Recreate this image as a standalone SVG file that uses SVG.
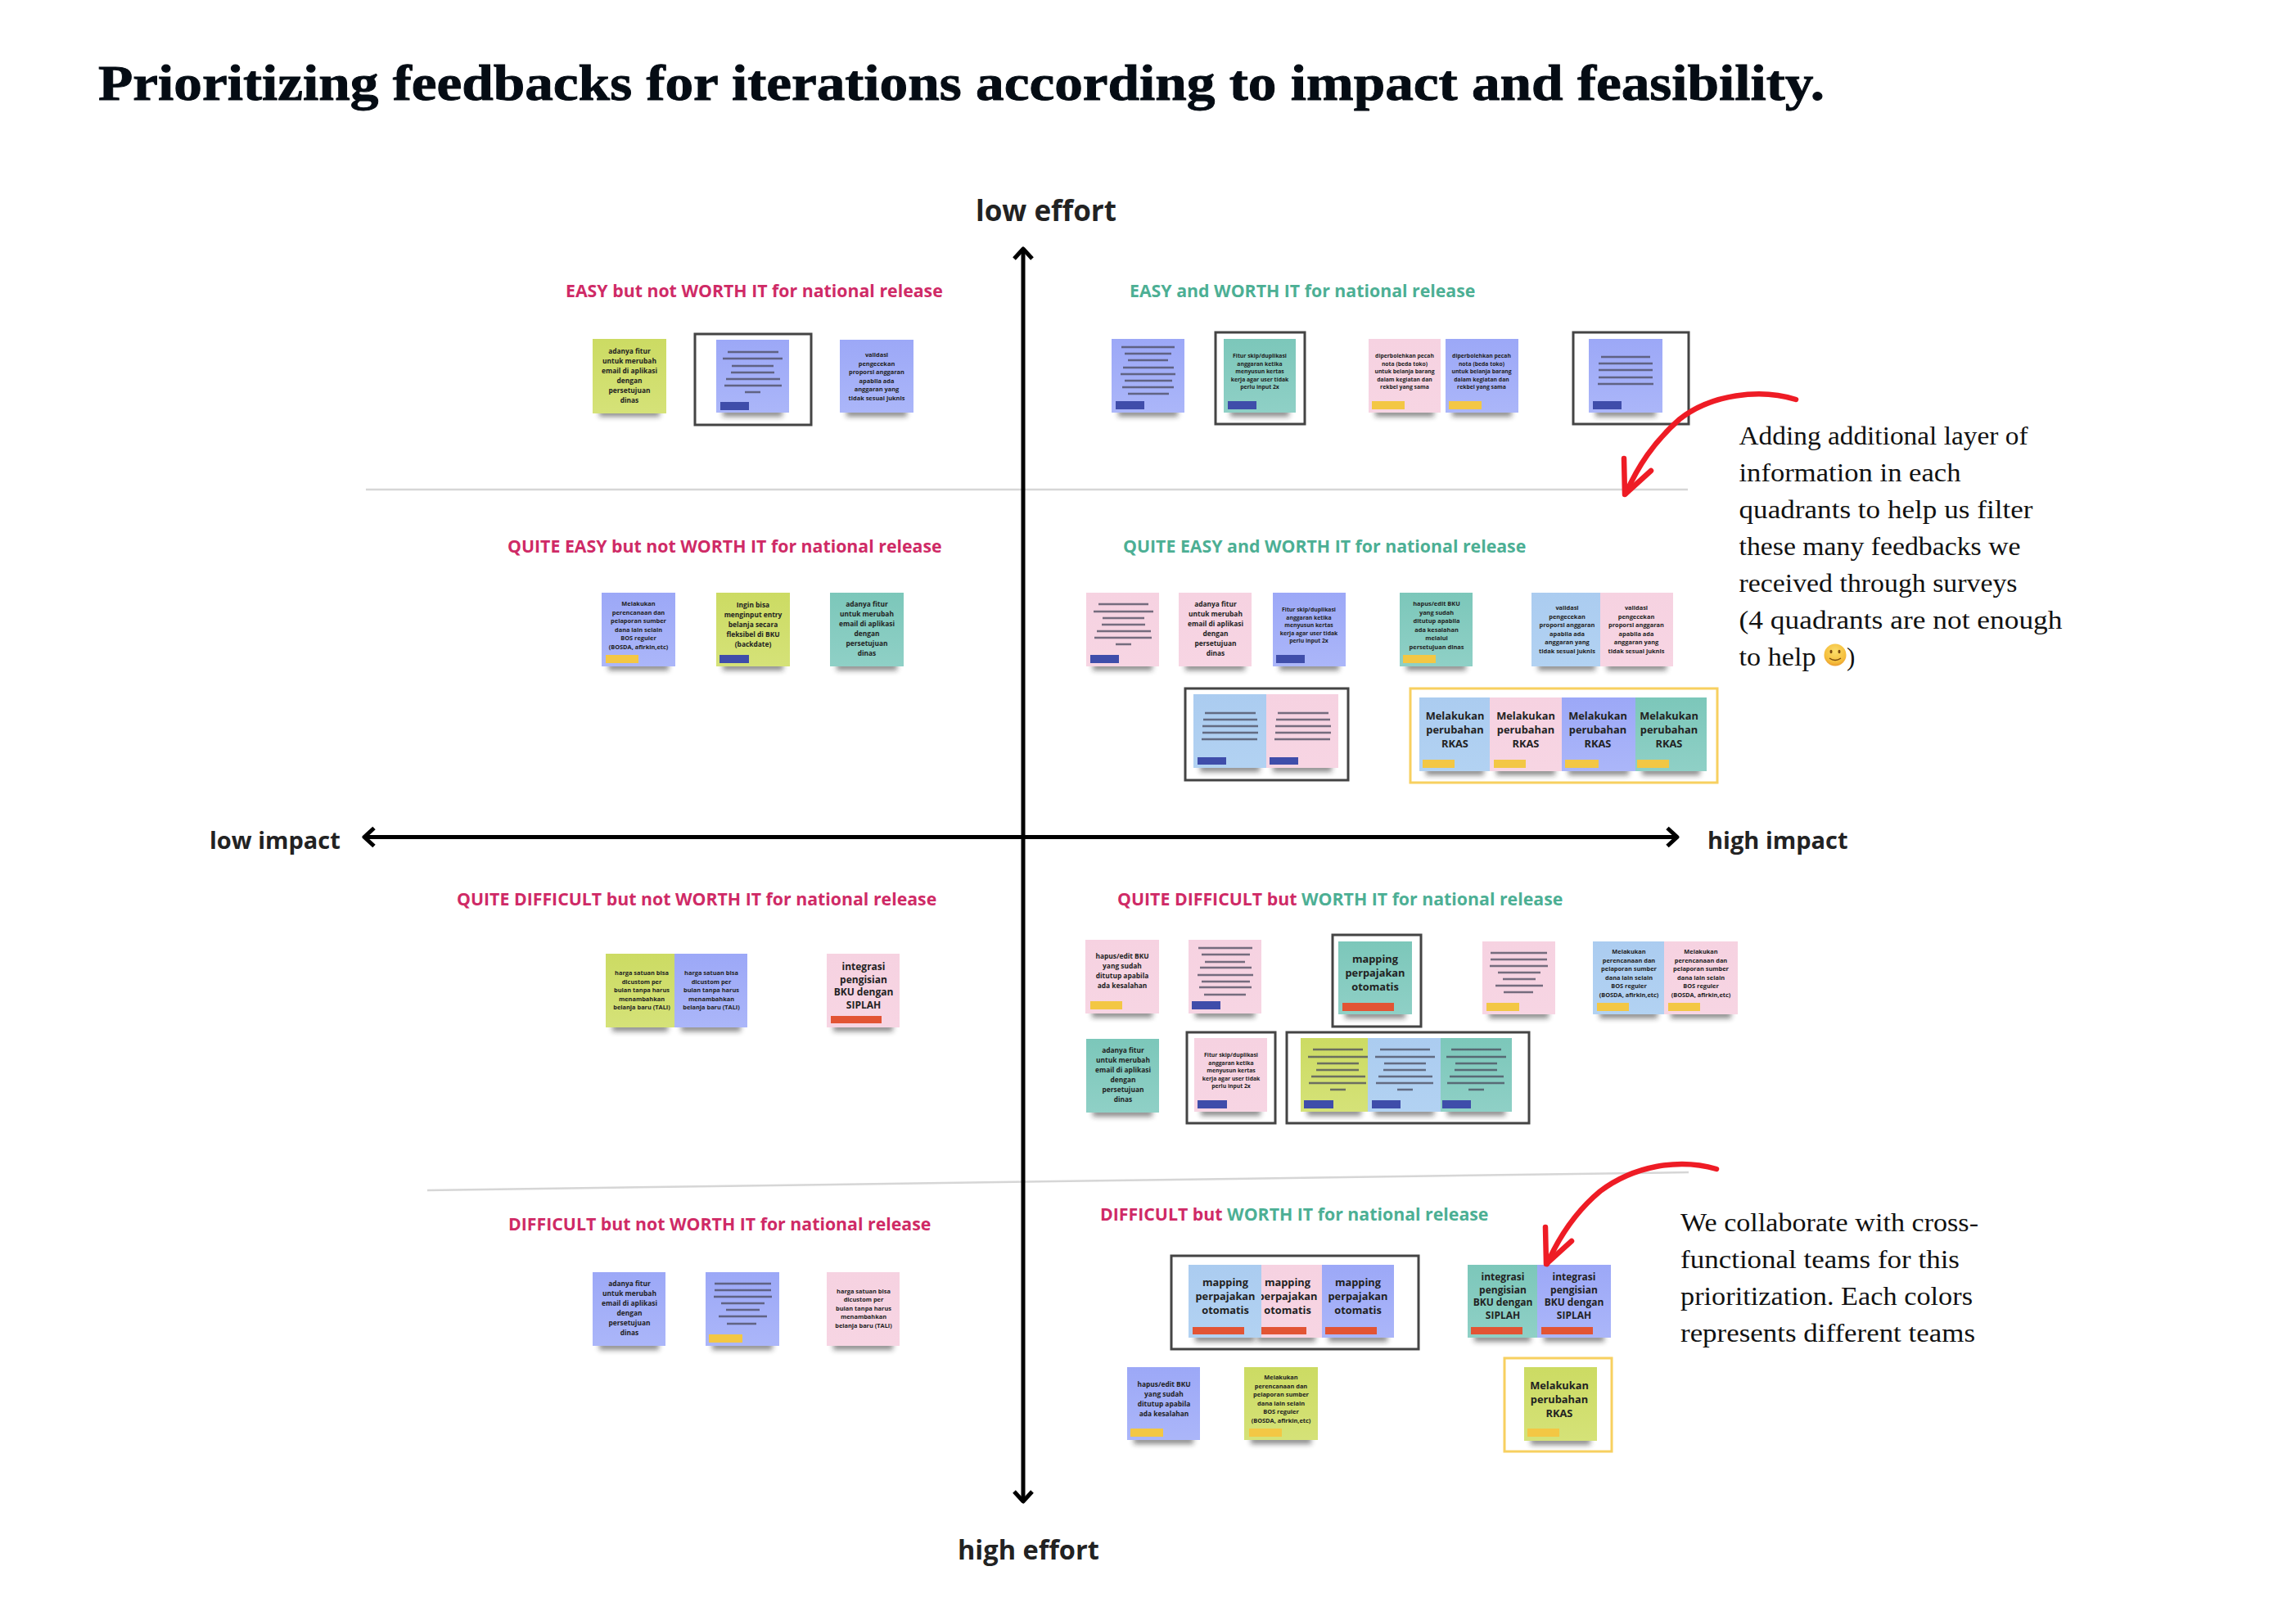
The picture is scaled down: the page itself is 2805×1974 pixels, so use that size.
<svg xmlns="http://www.w3.org/2000/svg" width="2805" height="1974" viewBox="0 0 2805 1974">
<style>
.bg{fill:#fff}
.sh{fill:#1c1c1c;opacity:.5;filter:url(#blur)}
.blue{fill:url(#gBlue)}.green{fill:url(#gGreen)}.teal{fill:url(#gTeal)}.pink{fill:url(#gPink)}.lblue{fill:url(#gLblue)}
.tb{fill:#3F4DAA}.ty{fill:#F3C744}.tr{fill:#E25434}
.ln{stroke:#4a4a5c;stroke-opacity:.75;stroke-width:2.5;fill:none}
.t{font-family:"Open Sans","Liberation Sans",sans-serif;font-weight:700;fill:#222;text-anchor:middle}
.f85{font-size:8.4px}.f75{font-size:7.4px}.f68{font-size:6.8px}
.f12{font-size:12px;font-weight:700}.f13{font-size:12.8px;font-weight:700}
.fk{fill:none;stroke:#444;stroke-width:3}.fy{fill:none;stroke:#F7D060;stroke-width:3}
.h{font-family:"Open Sans","Liberation Sans",sans-serif;font-weight:700;font-size:21.3px}
.pk{fill:#CF2A66}.gn{fill:#4CAF94}
.ax{font-family:"Open Sans","Liberation Sans",sans-serif;font-weight:700;fill:#222}
.ax1{font-size:35px}.ax2{font-size:32.5px}.ax3{font-size:29px}
.nt{font-family:"Liberation Serif","DejaVu Serif",serif;font-size:31px;fill:#111}
.ttl{font-family:"Liberation Serif","DejaVu Serif",serif;font-weight:700;font-size:61px;fill:#050c14;stroke:#050c14;stroke-width:.9}
.axis{stroke:#000;stroke-width:5;fill:none}
.div{stroke:#d6d6d6;stroke-width:2.5;fill:none}
.red{stroke:#EE1C25;stroke-width:6.5;fill:none;stroke-linecap:round;stroke-linejoin:round}
</style>
<defs>
<filter id="blur" x="-30%" y="-150%" width="160%" height="400%"><feGaussianBlur stdDeviation="3.2"/></filter>
<linearGradient id="gBlue" x1="0" y1="0" x2="0" y2="1"><stop offset="0" stop-color="#9CA8F7"/><stop offset="1" stop-color="#ABB6F9"/></linearGradient>
<linearGradient id="gGreen" x1="0" y1="0" x2="0" y2="1"><stop offset="0" stop-color="#CCDB63"/><stop offset="1" stop-color="#D5E278"/></linearGradient>
<linearGradient id="gTeal" x1="0" y1="0" x2="0" y2="1"><stop offset="0" stop-color="#7CC7BA"/><stop offset="1" stop-color="#8FD0C6"/></linearGradient>
<linearGradient id="gPink" x1="0" y1="0" x2="0" y2="1"><stop offset="0" stop-color="#F6D2E1"/><stop offset="1" stop-color="#F7D5E3"/></linearGradient>
<linearGradient id="gLblue" x1="0" y1="0" x2="0" y2="1"><stop offset="0" stop-color="#ABCCF0"/><stop offset="1" stop-color="#B2D2F2"/></linearGradient>
<radialGradient id="gEmo" cx=".5" cy=".35" r=".7"><stop offset="0" stop-color="#FBDD6A"/><stop offset=".7" stop-color="#F5BE3C"/><stop offset="1" stop-color="#E8922A"/></radialGradient>
<marker id="chev" markerUnits="userSpaceOnUse" markerWidth="34" markerHeight="34" refX="17" refY="17" orient="auto-start-reverse"><path d="M5 6L17 17L5 28" fill="none" stroke="#000" stroke-width="5" stroke-linejoin="round"/></marker>
</defs>
<rect class="bg" width="2805" height="1974"/>
<text id="title" class="ttl" x="120" y="122" textLength="2109" lengthAdjust="spacingAndGlyphs">Prioritizing feedbacks for iterations according to impact and feasibility.</text>

<g id="connectors">
<path class="div" d="M447 598H2062"/>
<path class="div" d="M522 1454L2063 1432"/>
<path class="axis" marker-start="url(#chev)" marker-end="url(#chev)" d="M1250 304V1834"/>
<path class="axis" marker-start="url(#chev)" marker-end="url(#chev)" d="M445 1022.5H2049"/>
</g>

<g id="axis-labels">
<text class="ax ax1" x="1192" y="270">low effort</text>
<text class="ax ax3" x="256" y="1037">low impact</text>
<text class="ax ax3" x="2086" y="1037">high impact</text>
<text class="ax ax2" x="1170" y="1905">high effort</text>
</g>

<g id="quadrant-headings">
<text class="h pk" x="691" y="362.5">EASY but not WORTH IT for national release</text>
<text class="h gn" x="1380" y="362.5">EASY and WORTH IT for national release</text>
<text class="h pk" x="620" y="674.5">QUITE EASY but not WORTH IT for national release</text>
<text class="h gn" x="1372" y="674.5">QUITE EASY and WORTH IT for national release</text>
<text class="h pk" x="558" y="1105.5">QUITE DIFFICULT but not WORTH IT for national release</text>
<text class="h" x="1365" y="1105.5"><tspan class="pk">QUITE DIFFICULT but </tspan><tspan class="gn">WORTH IT for national release</tspan></text>
<text class="h pk" x="621" y="1502.5">DIFFICULT but not WORTH IT for national release</text>
<text class="h" x="1344" y="1490.5"><tspan class="pk">DIFFICULT but </tspan><tspan class="gn">WORTH IT for national release</tspan></text>
</g>

<g id="frames">
<rect class="fk" x="849" y="408" width="142" height="111"/>
<rect class="fk" x="1485" y="406" width="109" height="112"/>
<rect class="fk" x="1922" y="406" width="141" height="112"/>
<rect class="fk" x="1448" y="841" width="199" height="112"/>
<rect class="fy" x="1723" y="841" width="375" height="115"/>
<rect class="fk" x="1628" y="1142" width="108" height="112"/>
<rect class="fk" x="1450" y="1261" width="108" height="111"/>
<rect class="fk" x="1572" y="1261" width="296" height="111"/>
<rect class="fk" x="1431" y="1534" width="302" height="114"/>
<rect class="fy" x="1838" y="1659" width="131" height="114"/>
</g>

<g id="q1-note1" transform="translate(724,414)"><rect class="sh" x="8" y="85" width="74" height="10"/><rect class="green" width="90" height="91"/><text class="t f85" y="18"><tspan x="45">adanya fitur</tspan><tspan x="45" dy="12">untuk merubah</tspan><tspan x="45" dy="12">email di aplikasi</tspan><tspan x="45" dy="12">dengan</tspan><tspan x="45" dy="12">persetujuan</tspan><tspan x="45" dy="12">dinas</tspan></text></g>
<g id="q1-note2" transform="translate(875,415)"><rect class="sh" x="8" y="84" width="73" height="10"/><rect class="blue" width="89" height="89"/><path class="ln" d="M14 15h62M8 23h73M19 32h51M18 40h53M12 48h66M10 56h70M35 64h19"/><rect class="tb" x="5" y="76" width="35" height="10"/></g>
<g id="q1-note3" transform="translate(1026,415)"><rect class="sh" x="8" y="84" width="74" height="10"/><rect class="blue" width="90" height="89"/><text class="t f75" y="21"><tspan x="45">validasi</tspan><tspan x="45" dy="10.6">pengecekan</tspan><tspan x="45" dy="10.6">proporsi anggaran</tspan><tspan x="45" dy="10.6">apabila ada</tspan><tspan x="45" dy="10.6">anggaran yang</tspan><tspan x="45" dy="10.6">tidak sesuai juknis</tspan></text></g>

<g id="q2-note1" transform="translate(1358,414)"><rect class="sh" x="8" y="85" width="73" height="10"/><rect class="blue" width="89" height="90"/><path class="ln" d="M12 10h65M16 18h57M20 26h49M14 35h62M11 43h67M16 51h58M13 59h63M20 67h50"/><rect class="tb" x="5" y="76" width="35" height="10"/></g>
<g id="q2-note2" transform="translate(1495,414)"><rect class="sh" x="8" y="85" width="72" height="10"/><rect class="teal" width="88" height="90"/><text class="t f68" y="23"><tspan x="44">Fitur skip/duplikasi</tspan><tspan x="44" dy="9.5">anggaran ketika</tspan><tspan x="44" dy="9.5">menyusun kertas</tspan><tspan x="44" dy="9.5">kerja agar user tidak</tspan><tspan x="44" dy="9.5">perlu input 2x</tspan></text><rect class="tb" x="5" y="76" width="35" height="10"/></g>
<g id="q2-note3" transform="translate(1672,414)"><rect class="sh" x="8" y="85" width="72" height="10"/><rect class="pink" width="88" height="90"/><text class="t f68" y="23"><tspan x="44">diperbolehkan pecah</tspan><tspan x="44" dy="9.5">nota (beda toko)</tspan><tspan x="44" dy="9.5">untuk belanja barang</tspan><tspan x="44" dy="9.5">dalam kegiatan dan</tspan><tspan x="44" dy="9.5">rekbel yang sama</tspan></text><rect class="ty" x="4" y="76" width="40" height="10"/></g>
<g id="q2-note4" transform="translate(1766,414)"><rect class="sh" x="8" y="85" width="73" height="10"/><rect class="blue" width="89" height="90"/><text class="t f68" y="23"><tspan x="44">diperbolehkan pecah</tspan><tspan x="44" dy="9.5">nota (beda toko)</tspan><tspan x="44" dy="9.5">untuk belanja barang</tspan><tspan x="44" dy="9.5">dalam kegiatan dan</tspan><tspan x="44" dy="9.5">rekbel yang sama</tspan></text><rect class="ty" x="4" y="76" width="40" height="10"/></g>
<g id="q2-note5" transform="translate(1941,414)"><rect class="sh" x="8" y="85" width="74" height="10"/><rect class="blue" width="90" height="90"/><path class="ln" d="M15 22h60M12 30h66M12 38h66M12 47h66M11 55h68"/><rect class="tb" x="5" y="76" width="35" height="10"/></g>

<g id="q3-note1" transform="translate(735,724)"><rect class="sh" x="8" y="85" width="74" height="10"/><rect class="blue" width="90" height="90"/><text class="t f75" y="16"><tspan x="45">Melakukan</tspan><tspan x="45" dy="10.6">perencanaan dan</tspan><tspan x="45" dy="10.6">pelaporan sumber</tspan><tspan x="45" dy="10.6">dana lain selain</tspan><tspan x="45" dy="10.6">BOS reguler</tspan><tspan x="45" dy="10.6">(BOSDA, afirkin,etc)</tspan></text><rect class="ty" x="5" y="76" width="40" height="10"/></g>
<g id="q3-note2" transform="translate(875,724)"><rect class="sh" x="8" y="85" width="74" height="10"/><rect class="green" width="90" height="90"/><text class="t f85" y="18"><tspan x="45">Ingin bisa</tspan><tspan x="45" dy="12">menginput entry</tspan><tspan x="45" dy="12">belanja secara</tspan><tspan x="45" dy="12">fleksibel di BKU</tspan><tspan x="45" dy="12">(backdate)</tspan></text><rect class="tb" x="4" y="76" width="36" height="10"/></g>
<g id="q3-note3" transform="translate(1014,724)"><rect class="sh" x="8" y="85" width="74" height="10"/><rect class="teal" width="90" height="90"/><text class="t f85" y="17"><tspan x="45">adanya fitur</tspan><tspan x="45" dy="12">untuk merubah</tspan><tspan x="45" dy="12">email di aplikasi</tspan><tspan x="45" dy="12">dengan</tspan><tspan x="45" dy="12">persetujuan</tspan><tspan x="45" dy="12">dinas</tspan></text></g>

<g id="q4-note1" transform="translate(1327,724)"><rect class="sh" x="8" y="85" width="73" height="10"/><rect class="pink" width="89" height="90"/><path class="ln" d="M15 14h61M9 23h73M20 31h51M19 39h53M13 47h66M10 55h70M36 63h19"/><rect class="tb" x="5" y="76" width="35" height="10"/></g>
<g id="q4-note2" transform="translate(1440,724)"><rect class="sh" x="8" y="85" width="73" height="10"/><rect class="pink" width="89" height="90"/><text class="t f85" y="17"><tspan x="45">adanya fitur</tspan><tspan x="45" dy="12">untuk merubah</tspan><tspan x="45" dy="12">email di aplikasi</tspan><tspan x="45" dy="12">dengan</tspan><tspan x="45" dy="12">persetujuan</tspan><tspan x="45" dy="12">dinas</tspan></text></g>
<g id="q4-note3" transform="translate(1555,724)"><rect class="sh" x="8" y="85" width="73" height="10"/><rect class="blue" width="89" height="90"/><text class="t f68" y="23"><tspan x="44">Fitur skip/duplikasi</tspan><tspan x="44" dy="9.5">anggaran ketika</tspan><tspan x="44" dy="9.5">menyusun kertas</tspan><tspan x="44" dy="9.5">kerja agar user tidak</tspan><tspan x="44" dy="9.5">perlu input 2x</tspan></text><rect class="tb" x="4" y="76" width="35" height="10"/></g>
<g id="q4-note4" transform="translate(1710,724)"><rect class="sh" x="8" y="85" width="73" height="10"/><rect class="teal" width="89" height="90"/><text class="t f75" y="16"><tspan x="45">hapus/edit BKU</tspan><tspan x="45" dy="10.6">yang sudah</tspan><tspan x="45" dy="10.6">ditutup apabila</tspan><tspan x="45" dy="10.6">ada kesalahan</tspan><tspan x="45" dy="10.6">melalui</tspan><tspan x="45" dy="10.6">persetujuan dinas</tspan></text><rect class="ty" x="4" y="76" width="40" height="10"/></g>
<g id="q4-note5" transform="translate(1871,724)"><rect class="sh" x="8" y="85" width="70" height="10"/><rect class="lblue" width="84" height="90"/><text class="t f75" y="21"><tspan x="43.5">validasi</tspan><tspan x="43.5" dy="10.6">pengecekan</tspan><tspan x="43.5" dy="10.6">proporsi anggaran</tspan><tspan x="43.5" dy="10.6">apabila ada</tspan><tspan x="43.5" dy="10.6">anggaran yang</tspan><tspan x="43.5" dy="10.6">tidak sesuai juknis</tspan></text></g>
<g id="q4-note6" transform="translate(1955,724)"><rect class="sh" x="8" y="85" width="73" height="10"/><rect class="pink" width="89" height="90"/><text class="t f75" y="21"><tspan x="44">validasi</tspan><tspan x="44" dy="10.6">pengecekan</tspan><tspan x="44" dy="10.6">proporsi anggaran</tspan><tspan x="44" dy="10.6">apabila ada</tspan><tspan x="44" dy="10.6">anggaran yang</tspan><tspan x="44" dy="10.6">tidak sesuai juknis</tspan></text></g>
<g id="q4-note7" transform="translate(1458,848)"><rect class="sh" x="8" y="85" width="73" height="10"/><rect class="lblue" width="89" height="90"/><path class="ln" d="M14 23h62M12 31h66M11 39h68M11 47h68M10 55h68"/><rect class="tb" x="5" y="77" width="35" height="9"/></g>
<g id="q4-note8" transform="translate(1547,848)"><rect class="sh" x="8" y="85" width="72" height="10"/><rect class="pink" width="88" height="90"/><path class="ln" d="M14 23h62M12 31h66M11 39h68M11 47h68M10 55h68"/><rect class="tb" x="4" y="77" width="35" height="9"/></g>
<g id="q4-note9" transform="translate(1734,852)"><rect class="sh" x="8" y="85" width="71" height="10"/><rect class="lblue" width="87" height="90"/><text class="t f13" y="27"><tspan x="43.5">Melakukan</tspan><tspan x="43.5" dy="17">perubahan</tspan><tspan x="43.5" dy="17">RKAS</tspan></text><rect class="ty" x="4" y="76" width="39" height="10"/></g>
<g id="q4-note10" transform="translate(1820,852)"><rect class="sh" x="8" y="85" width="72" height="10"/><rect class="pink" width="88" height="90"/><text class="t f13" y="27"><tspan x="44">Melakukan</tspan><tspan x="44" dy="17">perubahan</tspan><tspan x="44" dy="17">RKAS</tspan></text><rect class="ty" x="5" y="76" width="39" height="10"/></g>
<g id="q4-note11" transform="translate(1908,852)"><rect class="sh" x="8" y="85" width="74" height="10"/><rect class="blue" width="90" height="90"/><text class="t f13" y="27"><tspan x="44">Melakukan</tspan><tspan x="44" dy="17">perubahan</tspan><tspan x="44" dy="17">RKAS</tspan></text><rect class="ty" x="4" y="76" width="41" height="10"/></g>
<g id="q4-note12" transform="translate(1998,852)"><rect class="sh" x="8" y="85" width="71" height="10"/><rect class="teal" width="87" height="90"/><text class="t f13" y="27"><tspan x="41">Melakukan</tspan><tspan x="41" dy="17">perubahan</tspan><tspan x="41" dy="17">RKAS</tspan></text><rect class="ty" x="2" y="76" width="39" height="10"/></g>

<g id="q5-note1" transform="translate(740,1165)"><rect class="sh" x="8" y="85" width="68" height="10"/><rect class="green" width="84" height="90"/><text class="t f75" y="26"><tspan x="44">harga satuan bisa</tspan><tspan x="44" dy="10.5">dicustom per</tspan><tspan x="44" dy="10.5">bulan tanpa harus</tspan><tspan x="44" dy="10.5">menambahkan</tspan><tspan x="44" dy="10.5">belanja baru (TALI)</tspan></text></g>
<g id="q5-note2" transform="translate(824,1165)"><rect class="sh" x="8" y="85" width="73" height="10"/><rect class="blue" width="89" height="90"/><text class="t f75" y="26"><tspan x="45">harga satuan bisa</tspan><tspan x="45" dy="10.5">dicustom per</tspan><tspan x="45" dy="10.5">bulan tanpa harus</tspan><tspan x="45" dy="10.5">menambahkan</tspan><tspan x="45" dy="10.5">belanja baru (TALI)</tspan></text></g>
<g id="q5-note3" transform="translate(1010,1165)"><rect class="sh" x="8" y="85" width="73" height="10"/><rect class="pink" width="89" height="90"/><text class="t f12" y="20"><tspan x="45">integrasi</tspan><tspan x="45" dy="15.6">pengisian</tspan><tspan x="45" dy="15.6">BKU dengan</tspan><tspan x="45" dy="15.6">SIPLAH</tspan></text><rect class="tr" x="5" y="76" width="62" height="9"/></g>

<g id="q6-note1" transform="translate(1326,1148)"><rect class="sh" x="8" y="85" width="74" height="10"/><rect class="pink" width="90" height="90"/><text class="t f85" y="23"><tspan x="45">hapus/edit BKU</tspan><tspan x="45" dy="12">yang sudah</tspan><tspan x="45" dy="12">ditutup apabila</tspan><tspan x="45" dy="12">ada kesalahan</tspan></text><rect class="ty" x="6" y="75" width="39" height="10"/></g>
<g id="q6-note2" transform="translate(1452,1148)"><rect class="sh" x="8" y="85" width="73" height="10"/><rect class="pink" width="89" height="90"/><path class="ln" d="M12 10h66M16 18h59M20 27h49M14 34h63M11 43h68M16 51h59M13 58h64M19 67h51"/><rect class="tb" x="4" y="75" width="35" height="10"/></g>
<g id="q6-note3" transform="translate(1635,1150)"><rect class="sh" x="8" y="84" width="74" height="10"/><rect class="teal" width="90" height="89"/><text class="t f13" y="26"><tspan x="45">mapping</tspan><tspan x="45" dy="17">perpajakan</tspan><tspan x="45" dy="17">otomatis</tspan></text><rect class="tr" x="5" y="75" width="63" height="10"/></g>
<g id="q6-note4" transform="translate(1811,1150)"><rect class="sh" x="8" y="84" width="73" height="10"/><rect class="pink" width="89" height="89"/><path class="ln" d="M10 14h69M10 22h69M9 30h71M19 38h52M25 46h40M16 54h58M26 62h36"/><rect class="ty" x="5" y="75" width="40" height="10"/></g>
<g id="q6-note5" transform="translate(1946,1150)"><rect class="sh" x="8" y="84" width="71" height="10"/><rect class="lblue" width="87" height="89"/><text class="t f75" y="15"><tspan x="44">Melakukan</tspan><tspan x="44" dy="10.6">perencanaan dan</tspan><tspan x="44" dy="10.6">pelaporan sumber</tspan><tspan x="44" dy="10.6">dana lain selain</tspan><tspan x="44" dy="10.6">BOS reguler</tspan><tspan x="44" dy="10.6">(BOSDA, afirkin,etc)</tspan></text><rect class="ty" x="5" y="75" width="39" height="10"/></g>
<g id="q6-note6" transform="translate(2033,1150)"><rect class="sh" x="8" y="84" width="74" height="10"/><rect class="pink" width="90" height="89"/><text class="t f75" y="15"><tspan x="45">Melakukan</tspan><tspan x="45" dy="10.6">perencanaan dan</tspan><tspan x="45" dy="10.6">pelaporan sumber</tspan><tspan x="45" dy="10.6">dana lain selain</tspan><tspan x="45" dy="10.6">BOS reguler</tspan><tspan x="45" dy="10.6">(BOSDA, afirkin,etc)</tspan></text><rect class="ty" x="5" y="75" width="39" height="10"/></g>
<g id="q6-note7" transform="translate(1327,1269)"><rect class="sh" x="8" y="85" width="73" height="10"/><rect class="teal" width="89" height="90"/><text class="t f85" y="17"><tspan x="45">adanya fitur</tspan><tspan x="45" dy="12">untuk merubah</tspan><tspan x="45" dy="12">email di aplikasi</tspan><tspan x="45" dy="12">dengan</tspan><tspan x="45" dy="12">persetujuan</tspan><tspan x="45" dy="12">dinas</tspan></text></g>
<g id="q6-note8" transform="translate(1459,1268)"><rect class="sh" x="8" y="85" width="73" height="10"/><rect class="pink" width="89" height="90"/><text class="t f68" y="23"><tspan x="45">Fitur skip/duplikasi</tspan><tspan x="45" dy="9.5">anggaran ketika</tspan><tspan x="45" dy="9.5">menyusun kertas</tspan><tspan x="45" dy="9.5">kerja agar user tidak</tspan><tspan x="45" dy="9.5">perlu input 2x</tspan></text><rect class="tb" x="4" y="76" width="36" height="10"/></g>
<g id="q6-note9" transform="translate(1589,1268)"><rect class="sh" x="8" y="85" width="66" height="10"/><rect class="green" width="82" height="90"/><path class="ln" d="M15 14h61M9 23h73M20 31h51M19 39h52M13 47h66M10 55h70M36 63h19"/><rect class="tb" x="4" y="76" width="36" height="10"/></g>
<g id="q6-note10" transform="translate(1671,1268)"><rect class="sh" x="8" y="85" width="73" height="10"/><rect class="lblue" width="89" height="90"/><path class="ln" d="M15 14h61M9 23h73M20 31h51M19 39h52M13 47h66M10 55h70M36 63h19"/><rect class="tb" x="5" y="76" width="35" height="10"/></g>
<g id="q6-note11" transform="translate(1760,1268)"><rect class="sh" x="8" y="85" width="71" height="10"/><rect class="teal" width="87" height="90"/><path class="ln" d="M13 14h61M7 23h73M18 31h51M17 39h52M11 47h66M8 55h70M34 63h19"/><rect class="tb" x="2" y="76" width="35" height="10"/></g>

<g id="q7-note1" transform="translate(724,1554)"><rect class="sh" x="8" y="85" width="73" height="10"/><rect class="blue" width="89" height="90"/><text class="t f85" y="17"><tspan x="45">adanya fitur</tspan><tspan x="45" dy="12">untuk merubah</tspan><tspan x="45" dy="12">email di aplikasi</tspan><tspan x="45" dy="12">dengan</tspan><tspan x="45" dy="12">persetujuan</tspan><tspan x="45" dy="12">dinas</tspan></text></g>
<g id="q7-note2" transform="translate(862,1554)"><rect class="sh" x="8" y="85" width="74" height="10"/><rect class="blue" width="90" height="90"/><path class="ln" d="M11 14h69M11 22h69M10 30h71M19 38h53M25 46h41M16 54h59M26 63h36"/><rect class="ty" x="4" y="76" width="41" height="10"/></g>
<g id="q7-note3" transform="translate(1010,1554)"><rect class="sh" x="8" y="85" width="73" height="10"/><rect class="pink" width="89" height="90"/><text class="t f75" y="26"><tspan x="45">harga satuan bisa</tspan><tspan x="45" dy="10.4">dicustom per</tspan><tspan x="45" dy="10.4">bulan tanpa harus</tspan><tspan x="45" dy="10.4">menambahkan</tspan><tspan x="45" dy="10.4">belanja baru (TALI)</tspan></text></g>

<g id="q8-note2" transform="translate(1528,1545)"><rect class="sh" x="8" y="84" width="71" height="10"/><rect class="pink" width="87" height="89"/><text class="t f13" y="26"><tspan x="45">mapping</tspan><tspan x="45" dy="17">perpajakan</tspan><tspan x="45" dy="17">otomatis</tspan></text><rect class="tr" x="5" y="76" width="63" height="9"/></g>
<g id="q8-note1" transform="translate(1452,1545)"><rect class="sh" x="8" y="84" width="73" height="10"/><rect class="lblue" width="89" height="89"/><text class="t f13" y="26"><tspan x="45">mapping</tspan><tspan x="45" dy="17">perpajakan</tspan><tspan x="45" dy="17">otomatis</tspan></text><rect class="tr" x="5" y="76" width="63" height="9"/></g>
<g id="q8-note3" transform="translate(1615,1545)"><rect class="sh" x="8" y="84" width="72" height="10"/><rect class="blue" width="88" height="89"/><text class="t f13" y="26"><tspan x="44">mapping</tspan><tspan x="44" dy="17">perpajakan</tspan><tspan x="44" dy="17">otomatis</tspan></text><rect class="tr" x="4" y="76" width="63" height="9"/></g>
<g id="q8-note4" transform="translate(1793,1545)"><rect class="sh" x="8" y="84" width="69" height="10"/><rect class="teal" width="85" height="89"/><text class="t f12" y="19"><tspan x="43">integrasi</tspan><tspan x="43" dy="15.6">pengisian</tspan><tspan x="43" dy="15.6">BKU dengan</tspan><tspan x="43" dy="15.6">SIPLAH</tspan></text><rect class="tr" x="4" y="76" width="63" height="9"/></g>
<g id="q8-note5" transform="translate(1878,1545)"><rect class="sh" x="8" y="84" width="74" height="10"/><rect class="blue" width="90" height="89"/><text class="t f12" y="19"><tspan x="45">integrasi</tspan><tspan x="45" dy="15.6">pengisian</tspan><tspan x="45" dy="15.6">BKU dengan</tspan><tspan x="45" dy="15.6">SIPLAH</tspan></text><rect class="tr" x="5" y="76" width="63" height="9"/></g>
<g id="q8-note6" transform="translate(1377,1670)"><rect class="sh" x="8" y="84" width="73" height="10"/><rect class="blue" width="89" height="89"/><text class="t f85" y="24"><tspan x="45">hapus/edit BKU</tspan><tspan x="45" dy="12">yang sudah</tspan><tspan x="45" dy="12">ditutup apabila</tspan><tspan x="45" dy="12">ada kesalahan</tspan></text><rect class="ty" x="4" y="75" width="40" height="10"/></g>
<g id="q8-note7" transform="translate(1520,1670)"><rect class="sh" x="8" y="84" width="74" height="10"/><rect class="green" width="90" height="89"/><text class="t f75" y="15"><tspan x="45">Melakukan</tspan><tspan x="45" dy="10.6">perencanaan dan</tspan><tspan x="45" dy="10.6">pelaporan sumber</tspan><tspan x="45" dy="10.6">dana lain selain</tspan><tspan x="45" dy="10.6">BOS reguler</tspan><tspan x="45" dy="10.6">(BOSDA, afirkin,etc)</tspan></text><rect class="ty" x="6" y="75" width="40" height="10"/></g>
<g id="q8-note8" transform="translate(1862,1670)"><rect class="sh" x="8" y="85" width="73" height="10"/><rect class="green" width="89" height="90"/><text class="t f13" y="27"><tspan x="43">Melakukan</tspan><tspan x="43" dy="17">perubahan</tspan><tspan x="43" dy="17">RKAS</tspan></text><rect class="ty" x="4" y="75" width="39" height="10"/></g>

<g id="annotation-1">
<text class="nt" x="2124.5" y="543" textLength="353" lengthAdjust="spacingAndGlyphs">Adding additional layer of</text>
<text class="nt" x="2124.5" y="588" textLength="271" lengthAdjust="spacingAndGlyphs">information in each</text>
<text class="nt" x="2124.5" y="633" textLength="359" lengthAdjust="spacingAndGlyphs">quadrants to help us filter</text>
<text class="nt" x="2124.5" y="678" textLength="344" lengthAdjust="spacingAndGlyphs">these many feedbacks we</text>
<text class="nt" x="2124.5" y="723" textLength="340" lengthAdjust="spacingAndGlyphs">received through surveys</text>
<text class="nt" x="2124.5" y="768" textLength="395" lengthAdjust="spacingAndGlyphs">(4 quadrants are not enough</text>
<text class="nt" x="2124.5" y="813" textLength="94" lengthAdjust="spacingAndGlyphs">to help</text>
<g id="smiley"><circle cx="2242" cy="800" r="13.5" fill="url(#gEmo)"/><ellipse cx="2237" cy="796" rx="1.5" ry="2.2" fill="#7a4a10"/><ellipse cx="2247" cy="796" rx="1.5" ry="2.2" fill="#7a4a10"/><path d="M2235 804Q2242 809 2249 804" fill="none" stroke="#7a4a10" stroke-width="1.4"/></g>
<text class="nt" x="2256" y="813">)</text>
<path class="red" d="M2194 488C2150 474 2090 482 2052 512C2020 540 2001 570 1986 603"/>
<path class="red" d="M1984 560L1985 604L2017 575"/>
</g>

<g id="annotation-2">
<text class="nt" x="2053" y="1503.5" textLength="364" lengthAdjust="spacingAndGlyphs">We collaborate with cross-</text>
<text class="nt" x="2053" y="1548.5" textLength="341" lengthAdjust="spacingAndGlyphs">functional teams for this</text>
<text class="nt" x="2053" y="1593.5" textLength="357" lengthAdjust="spacingAndGlyphs">prioritization. Each colors</text>
<text class="nt" x="2053" y="1638.5" textLength="360" lengthAdjust="spacingAndGlyphs">represents different teams</text>
<path class="red" d="M2097 1428C2050 1414 1995 1425 1955 1455C1925 1480 1905 1510 1890 1544"/>
<path class="red" d="M1888 1499L1889 1544L1920 1516"/>
</g>
</svg>
